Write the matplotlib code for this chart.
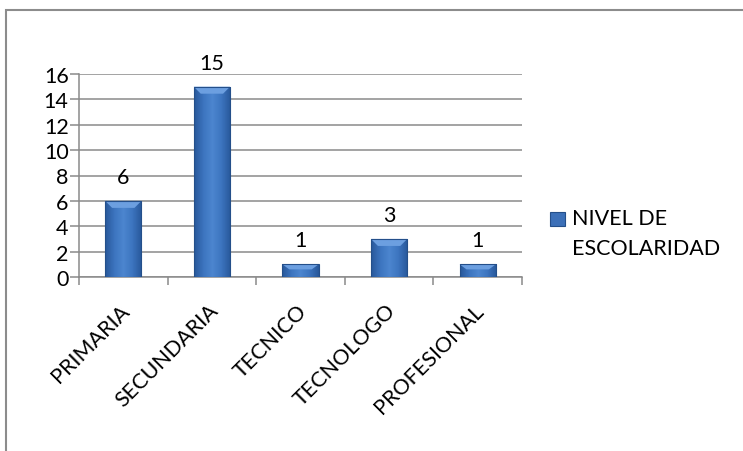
import matplotlib
matplotlib.use("Agg")
import matplotlib.pyplot as plt
import numpy as np
import matplotlib.transforms as mtrans
from matplotlib.patches import Rectangle, Polygon
from matplotlib.colors import LinearSegmentedColormap

categories = ["PRIMARIA", "SECUNDARIA", "TECNICO", "TECNOLOGO", "PROFESIONAL"]
values = [6, 15, 1, 3, 1]
series_name = "NIVEL DE\nESCOLARIDAD"
yticks = [0, 2, 4, 6, 8, 10, 12, 14, 16]

plt.rcParams['font.family'] = ['Lato', 'DejaVu Sans']
FS = 15.5

W, H, DPI = 743, 452, 100
fig = plt.figure(figsize=(W / DPI, H / DPI), dpi=DPI)
ax = fig.add_axes([79 / W, 1 - 278 / H, (522 - 79) / W, (278 - 75) / H])

grid_c = '#8a8a8a'
ax.set_xlim(-0.5, len(categories) - 0.5)
ax.set_ylim(0, 16)
ax.set_yticks(yticks)
ax.set_yticklabels([str(v) for v in yticks])
ax.yaxis.grid(True, color=grid_c, lw=1.1)
ax.set_axisbelow(True)
for s in ['top', 'right']:
    ax.spines[s].set_visible(False)
for s in ['left', 'bottom']:
    ax.spines[s].set_color(grid_c)
    ax.spines[s].set_linewidth(1.1)
ax.tick_params(axis='y', length=6.5, width=1.1, color=grid_c, pad=1, labelsize=FS)
ax.set_xticks(range(len(categories)))
ax.set_xticklabels([])
ax.tick_params(axis='x', which='major', length=0)
ax.set_xticks(np.arange(-0.5, len(categories)), minor=True)
ax.tick_params(axis='x', which='minor', length=6, width=1.1, color=grid_c)

# px -> data conversion
px_x = 1.0 / ((522 - 79) / len(categories))
px_y = 16.0 / (278 - 75)

bw = 0.41
cmap = LinearSegmentedColormap.from_list('bar', ['#28589a', '#3c74bf', '#4c86cf', '#3c74bf', '#28589a'])
grad = np.linspace(0, 1, 64).reshape(1, -1)
for i, v in enumerate(values):
    x0, x1 = i - bw / 2, i + bw / 2
    rect = Rectangle((x0, 0), bw, v, facecolor='none', edgecolor='#244f8a', lw=0.8, zorder=4)
    ax.add_patch(rect)
    im = ax.imshow(grad, extent=[x0, x1, 0, v], cmap=cmap, aspect='auto', zorder=3,
                   interpolation='bilinear')
    im.set_clip_path(rect)
    bx, by = 7 * px_x, min(7 * px_y, v * 0.4)
    top = Polygon([(x0, v), (x1, v), (x1 - bx, v - by), (x0 + bx, v - by)],
                  closed=True, facecolor='#6c9fe0', edgecolor='none', zorder=3.5)
    ax.add_patch(top)
    ax.annotate(str(v), (i, v), xytext=(0, 13), textcoords='offset points',
                ha='center', va='baseline', fontsize=FS, color='black')

ax.set_ylim(0, 16)
ax.set_xlim(-0.5, len(categories) - 0.5)

# category labels
for i, c in enumerate(categories):
    tr = ax.get_xaxis_transform() + mtrans.ScaledTranslation(3 / DPI, -30 / DPI, fig.dpi_scale_trans)
    ax.text(i, 0, c, transform=tr, rotation=45, rotation_mode='anchor',
            ha='right', va='center', fontsize=FS)

# legend
sq = Rectangle((550 / W, 1 - 227 / H), 15 / W, 14 / H, transform=fig.transFigure,
               facecolor='#3c70b8', edgecolor='#244f8a', lw=0.8)
fig.patches.append(sq)
fig.text(572 / W, 1 - 209 / H, series_name, ha='left', va='top', fontsize=FS,
         linespacing=1.6)

# outer border
border = Rectangle((6 / W, -0.1), 1.2, 1 - 11 / H + 0.1, transform=fig.transFigure,
                   facecolor='none', edgecolor='#8c8c8c', lw=1.5)
fig.patches.append(border)

fig.savefig('out.png', dpi=DPI)
